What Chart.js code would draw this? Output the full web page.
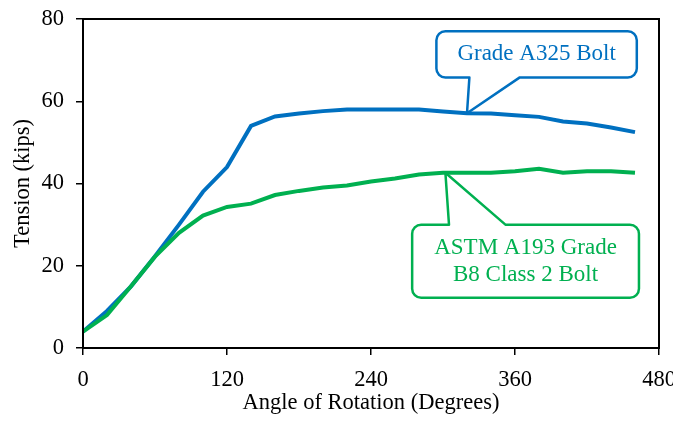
<!DOCTYPE html>
<html>
<head>
<meta charset="utf-8">
<script src="https://cdn.jsdelivr.net/npm/chart.js@4/dist/chart.umd.min.js"></script>
<style>
  html, body { margin: 0; padding: 0; background: #fff; }
  #wrap { width: 673px; height: 421px; }
</style>
</head>
<body>
<div id="wrap"><canvas id="tensionChart"></canvas></div>
<script>
// Bolt tension vs. nut rotation
const angles = [0, 20, 40, 60, 80, 100, 120, 140, 160, 180, 200, 220, 240, 260, 280, 300, 320, 340, 360, 380, 400, 420, 440, 460];
const a325 = [4, 9, 15, 22.3, 30, 38, 44, 54, 56.3, 57, 57.6, 58, 58, 58, 58, 57.5, 57.1, 57, 56.6, 56.2, 55.1, 54.6, 53.6, 52.5];
const a193 = [4, 8, 15, 22.2, 28, 32.2, 34.3, 35.1, 37.2, 38.2, 39, 39.5, 40.5, 41.2, 42.2, 42.6, 42.6, 42.6, 43, 43.6, 42.6, 43, 43, 42.6];
const xTicks = [0, 120, 240, 360, 480];
const yTicks = [0, 20, 40, 60, 80];

const BLUE = '#0070C0';
const GREEN = '#00B050';
const SERIF = '"Liberation Serif", "Times New Roman", serif';

// callouts: box corners and pointer in data units
const callouts = [
  { lines: ['Grade A325 Bolt'], color: BLUE, box: [294.5, 77, 461.5, 65.8], base: [322, 364], tip: [320, 57.1] },
  { lines: ['ASTM A193 Grade', 'B8 Class 2 Bolt'], color: GREEN, box: [274.3, 30, 463.3, 12.2], base: [305, 352], tip: [302, 42.6] },
];

const toPts = ys => angles.map((a, i) => ({ x: a, y: ys[i] }));

const frameAndCallouts = {
  id: 'frameAndCallouts',
  afterDatasetsDraw(chart) {
    const { ctx, chartArea: ca, scales } = chart;
    const sx = scales.x, sy = scales.y;
    ctx.save();
    ctx.strokeStyle = '#000';
    ctx.lineWidth = 2;
    ctx.strokeRect(ca.left, ca.top, ca.right - ca.left, ca.bottom - ca.top);

    callouts.forEach(c => {
      const x0 = sx.getPixelForValue(c.box[0]);
      const y0 = sy.getPixelForValue(c.box[1]);
      const x1 = sx.getPixelForValue(c.box[2]);
      const y1 = sy.getPixelForValue(c.box[3]);
      const bx0 = sx.getPixelForValue(c.base[0]);
      const bx1 = sx.getPixelForValue(c.base[1]);
      const tx = sx.getPixelForValue(c.tip[0]);
      const ty = sy.getPixelForValue(c.tip[1]);
      const r = 9;
      const below = ty > y1; // pointer leaves from bottom edge
      ctx.beginPath();
      ctx.moveTo(x0 + r, y0);
      if (!below) {
        ctx.lineTo(bx0, y0);
        ctx.lineTo(tx, ty);
        ctx.lineTo(bx1, y0);
      }
      ctx.lineTo(x1 - r, y0);
      ctx.arcTo(x1, y0, x1, y0 + r, r);
      ctx.lineTo(x1, y1 - r);
      ctx.arcTo(x1, y1, x1 - r, y1, r);
      if (below) {
        ctx.lineTo(bx1, y1);
        ctx.lineTo(tx, ty);
        ctx.lineTo(bx0, y1);
      }
      ctx.lineTo(x0 + r, y1);
      ctx.arcTo(x0, y1, x0, y1 - r, r);
      ctx.lineTo(x0, y0 + r);
      ctx.arcTo(x0, y0, x0 + r, y0, r);
      ctx.closePath();
      ctx.fillStyle = '#fff';
      ctx.fill();
      ctx.strokeStyle = c.color;
      ctx.lineWidth = 2.5;
      ctx.lineJoin = 'round';
      ctx.stroke();

      ctx.fillStyle = c.color;
      ctx.font = '23px ' + SERIF;
      ctx.textAlign = 'center';
      ctx.textBaseline = 'middle';
      const cx = (x0 + x1) / 2;
      const cy = (y0 + y1) / 2;
      const lh = 26.5;
      c.lines.forEach((t, i) => {
        ctx.fillText(t, cx, cy + (i - (c.lines.length - 1) / 2) * lh);
      });
    });
    ctx.restore();
  }
};

new Chart(document.getElementById('tensionChart'), {
  type: 'line',
  data: {
    datasets: [
      { label: 'Grade A325 Bolt', data: toPts(a325), borderColor: BLUE, borderWidth: 4, pointRadius: 0, tension: 0, order: 2 },
      { label: 'ASTM A193 Grade B8 Class 2 Bolt', data: toPts(a193), borderColor: GREEN, borderWidth: 4, pointRadius: 0, tension: 0, order: 1 },
    ],
  },
  options: {
    responsive: true,
    maintainAspectRatio: false,
    animation: false,
    layout: { padding: { top: 19, right: 14, left: 0, bottom: 0 } },
    plugins: { legend: { display: false }, tooltip: { enabled: false } },
    scales: {
      x: {
        type: 'linear',
        min: 0,
        max: 480,
        afterBuildTicks: s => { s.ticks = xTicks.map(v => ({ value: v })); },
        afterFit: s => { s.height = 73; s.paddingRight = 0; s.paddingLeft = 0; },
        grid: { drawOnChartArea: false, color: '#000', tickLength: 7, lineWidth: 1.5 },
        border: { color: '#000', width: 2 },
        ticks: { color: '#000', font: { family: SERIF, size: 22.5 }, padding: 12, maxRotation: 0 },
        title: { display: true, text: 'Angle of Rotation (Degrees)', color: '#000', font: { family: SERIF, size: 22.5 }, padding: { top: 0 } },
      },
      y: {
        min: 0,
        max: 80,
        afterBuildTicks: s => { s.ticks = yTicks.map(v => ({ value: v })); },
        afterFit: s => { s.width = 83; s.paddingTop = 0; s.paddingBottom = 0; },
        grid: { drawOnChartArea: false, color: '#000', tickLength: 7, lineWidth: 1.5 },
        border: { color: '#000', width: 2 },
        ticks: { color: '#000', font: { family: SERIF, size: 22.5 }, padding: 12 },
        title: { display: true, text: 'Tension (kips)', color: '#000', font: { family: SERIF, size: 22.5 }, padding: { top: 10, bottom: 4 } },
      },
    },
  },
  plugins: [frameAndCallouts],
});
</script>
</body>
</html>
